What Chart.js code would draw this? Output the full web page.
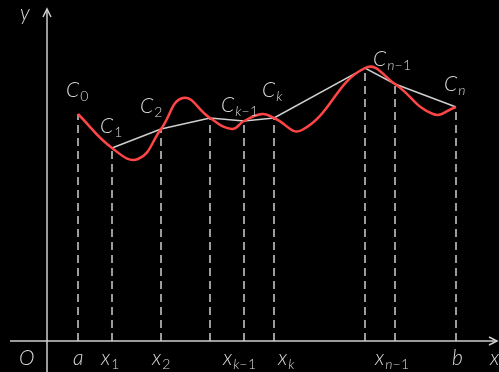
<!DOCTYPE html>
<html lang="en">
<head>
  <meta charset="UTF-8" />
  <script src="https://cdn.jsdelivr.net/npm/chart.js"></script>
  <title>Polygonal approximation</title>
  <style>
    html, body { margin: 0; padding: 0; background: #000; }
    .grafico { width: 499px; height: 372px; position: relative; }
  </style>
</head>
<body>
  <div class="grafico">
    <canvas id="graficoCurva"></canvas>
  </div>

<script>
  // coordinates measured from O (origin), y upwards
  const curveX = [31, 65, 91, 114, 136, 163, 185, 197, 215, 227, 255, 318, 348, 386, 409];
  const curveY = [227, 193, 182, 212, 243, 223, 212, 220, 227, 223, 211, 273, 257, 227, 234];

  // division points C0 .. Cn
  const pointX = [31, 65, 114, 163, 197, 227, 318, 348, 409];
  const pointY = [227, 193, 212, 223, 220, 223, 273, 257, 234];

  // axis ranges
  const axisX = [-37, 450];
  const axisY = [-31, 332];

  // labels: main letter, subscript, position (baseline)
  const labelMain = ['y', 'C', 'C', 'C', 'C', 'C', 'C', 'C', 'O', 'a', 'x', 'x', 'x', 'x', 'x', 'b', 'x'];
  const labelSub  = ['', '0', '1', '2', 'k\u22121', 'k', 'n\u22121', 'n', '', '', '1', '2', 'k\u22121', 'k', 'n\u22121', '', ''];
  const labelX    = [-27, 19, 53, 93, 174, 215, 326, 397, -28, 26, 54, 105, 176, 231, 328, 405, 443];
  const labelY    = [321, 244, 208, 228, 229, 244, 275, 250, -24, -24, -24, -24, -24, -24, -24, -24, -24];

  const cinza = '#cfcfcf';
  const vermelho = '#ff4545';

  let datasets = [];

  // dashed verticals
  for (let i = 0; i < pointX.length; i++) {
    datasets.push({
      data: [{ x: pointX[i], y: 0 }, { x: pointX[i], y: pointY[i] }],
      borderColor: cinza,
      borderWidth: 1.5,
      borderDash: [8, 5],
      pointRadius: 0,
      order: 5
    });
  }

  // axes
  datasets.push({
    data: [{ x: axisX[0], y: 0 }, { x: axisX[1], y: 0 }],
    borderColor: cinza, borderWidth: 1.5, pointRadius: 0, order: 4
  });
  datasets.push({
    data: [{ x: 0, y: axisY[0] }, { x: 0, y: axisY[1] }],
    borderColor: cinza, borderWidth: 1.5, pointRadius: 0, order: 4
  });

  // polyline (from C1 on, C0-C1 is hidden under the curve)
  let poly = [];
  for (let i = 1; i < pointX.length; i++) {
    poly.push({ x: pointX[i], y: pointY[i] });
  }
  datasets.push({
    data: poly,
    borderColor: cinza,
    borderWidth: 1.5,
    pointRadius: 0,
    tension: 0,
    order: 2
  });

  // red curve
  let curva = [];
  for (let i = 0; i < curveX.length; i++) {
    curva.push({ x: curveX[i], y: curveY[i] });
  }
  datasets.push({
    data: curva,
    borderColor: vermelho,
    borderWidth: 2.5,
    pointRadius: 0,
    tension: 0.45,
    order: 1
  });

  const fundoPreto = {
    id: 'fundoPreto',
    beforeDraw(chart) {
      const c = chart.ctx;
      c.save();
      c.fillStyle = '#000';
      c.fillRect(0, 0, chart.width, chart.height);
      c.restore();
    }
  };

  const setasETextos = {
    id: 'setasETextos',
    afterDraw(chart) {
      const c = chart.ctx;
      const sx = chart.scales.x;
      const sy = chart.scales.y;
      c.save();
      c.strokeStyle = cinza;
      c.lineWidth = 1.5;

      // arrow on x axis
      let ax = sx.getPixelForValue(axisX[1]);
      let ay = sy.getPixelForValue(0);
      c.beginPath();
      c.moveTo(ax - 8, ay - 4);
      c.lineTo(ax, ay);
      c.lineTo(ax - 8, ay + 4);
      c.stroke();

      // arrow on y axis
      let bx = sx.getPixelForValue(0);
      let by = sy.getPixelForValue(axisY[1]);
      c.beginPath();
      c.moveTo(bx - 4, by + 8);
      c.lineTo(bx, by);
      c.lineTo(bx + 4, by + 8);
      c.stroke();

      // labels
      c.fillStyle = '#d8d8d8';
      c.textBaseline = 'alphabetic';
      c.textAlign = 'left';
      for (let i = 0; i < labelMain.length; i++) {
        let px = sx.getPixelForValue(labelX[i]);
        let py = sy.getPixelForValue(labelY[i]);
        c.font = 'italic 300 21px Lato, "Open Sans", sans-serif';
        c.fillText(labelMain[i], px, py);
        if (labelSub[i]) {
          let w = c.measureText(labelMain[i]).width;
          let sub = labelSub[i];
          let sxp = px + w + 1;
          // letters in subscripts are italic, digits upright
          for (const ch of sub) {
            let italico = /[a-z]/.test(ch);
            c.font = (italico ? 'italic ' : '') + '300 14px Lato, "Open Sans", sans-serif';
            c.fillText(ch, sxp, py + 4);
            sxp += c.measureText(ch).width + (ch === '\u2212' ? 0.5 : 0);
          }
        }
      }
      c.restore();
    }
  };

  const config = {
    type: 'line',
    data: { datasets: datasets },
    options: {
      responsive: true,
      maintainAspectRatio: false,
      animation: false,
      layout: { padding: 0 },
      plugins: {
        legend: { display: false },
        tooltip: { enabled: false },
        title: { display: false }
      },
      scales: {
        x: { type: 'linear', min: -47, max: 452, display: false },
        y: { type: 'linear', min: -31, max: 341, display: false }
      }
    },
    plugins: [fundoPreto, setasETextos]
  };

  new Chart(document.getElementById('graficoCurva').getContext('2d'), config);
</script>
</body>
</html>
